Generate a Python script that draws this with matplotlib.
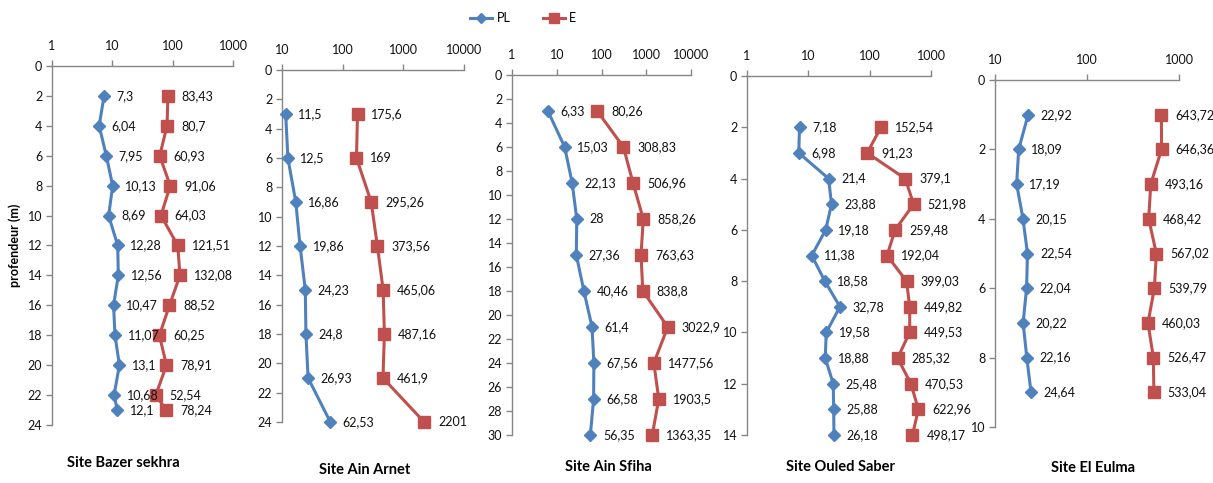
import matplotlib
matplotlib.use("Agg")
import matplotlib.pyplot as plt
from matplotlib.ticker import FixedLocator, NullLocator
from matplotlib.lines import Line2D

plt.rcParams['font.family'] = ['Lato', 'DejaVu Sans']

BLUE = '#4F81BD'
RED = '#C0504D'
GRAY = '#868686'

# ---- data ----
titles = ["Site Bazer sekhra", "Site Ain Arnet", "Site Ain Sfiha", "Site Ouled Saber", "Site El Eulma"]

depth1 = [2, 4, 6, 8, 10, 12, 14, 16, 18, 20, 22, 23]
pl1 = [7.3, 6.04, 7.95, 10.13, 8.69, 12.28, 12.56, 10.47, 11.07, 13.1, 10.68, 12.1]
e1 = [83.43, 80.7, 60.93, 91.06, 64.03, 121.51, 132.08, 88.52, 60.25, 78.91, 52.54, 78.24]

depth2 = [3, 6, 9, 12, 15, 18, 21, 24]
pl2 = [11.5, 12.5, 16.86, 19.86, 24.23, 24.8, 26.93, 62.53]
e2 = [175.6, 169, 295.26, 373.56, 465.06, 487.16, 461.9, 2201]

depth3 = [3, 6, 9, 12, 15, 18, 21, 24, 27, 30]
pl3 = [6.33, 15.03, 22.13, 28, 27.36, 40.46, 61.4, 67.56, 66.58, 56.35]
e3 = [80.26, 308.83, 506.96, 858.26, 763.63, 838.8, 3022.9, 1477.56, 1903.5, 1363.35]

depth4 = [2, 3, 4, 5, 6, 7, 8, 9, 10, 11, 12, 13, 14]
pl4 = [7.18, 6.98, 21.4, 23.88, 19.18, 11.38, 18.58, 32.78, 19.58, 18.88, 25.48, 25.88, 26.18]
e4 = [152.54, 91.23, 379.1, 521.98, 259.48, 192.04, 399.03, 449.82, 449.53, 285.32, 470.53, 622.96, 498.17]

depth5 = [1, 2, 3, 4, 5, 6, 7, 8, 9]
pl5 = [22.92, 18.09, 17.19, 20.15, 22.54, 22.04, 20.22, 22.16, 24.64]
e5 = [643.72, 646.36, 493.16, 468.42, 567.02, 539.79, 460.03, 526.47, 533.04]

xticks = [[1, 10, 100, 1000], [10, 100, 1000, 10000], [1, 10, 100, 1000, 10000],
          [1, 10, 100, 1000], [10, 100, 1000]]
ymax = [24, 24, 30, 14, 10]
ystep = [2, 2, 2, 2, 2]

depths = [depth1, depth2, depth3, depth4, depth5]
pls = [pl1, pl2, pl3, pl4, pl5]
es = [e1, e2, e3, e4, e5]

# axes boxes in pixels (left, right, top, bottom)
W, H = 1213, 483
boxes = [(52, 233, 66, 425), (282, 464, 70, 422), (512, 691, 75, 435),
         (747, 931, 76, 435), (995, 1179, 80, 427)]
title_pos = [(123, 463), (365, 470), (608, 467), (840, 467), (1093, 468)]

fig = plt.figure(figsize=(W / 100, H / 100), dpi=100)

def fmt(v):
    return f"{v:g}".replace('.', ',')

for i in range(5):
    l, r, t, b = boxes[i]
    ax = fig.add_axes([l / W, 1 - b / H, (r - l) / W, (b - t) / H])
    ax.set_xscale('log')
    ax.set_xlim(xticks[i][0], xticks[i][-1])
    ax.set_ylim(ymax[i], 0)
    ax.xaxis.set_major_locator(FixedLocator(xticks[i]))
    ax.xaxis.set_minor_locator(NullLocator())
    ax.set_xticklabels([str(x) for x in xticks[i]])
    ax.set_yticks(list(range(0, ymax[i] + 1, ystep[i])))
    ax.xaxis.tick_top()
    for s in ['right', 'bottom']:
        ax.spines[s].set_visible(False)
    for s in ['top', 'left']:
        ax.spines[s].set_color(GRAY)
        ax.spines[s].set_linewidth(1.0)
    ax.tick_params(axis='both', which='major', direction='out', length=4, width=1,
                   color=GRAY, labelsize=9, labelcolor='#111111', pad=3)
    ax.tick_params(axis='x', pad=6)
    ax.patch.set_alpha(0)

    ax.plot(pls[i], depths[i], color=BLUE, lw=2.2, marker='D', ms=6,
            markerfacecolor=BLUE, markeredgecolor=BLUE, clip_on=False, zorder=3)
    ax.plot(es[i], depths[i], color=RED, lw=2.2, marker='s', ms=8,
            markerfacecolor=RED, markeredgecolor=RED, clip_on=False, zorder=3)
    for x, y in zip(pls[i], depths[i]):
        ax.annotate(fmt(x), (x, y), xytext=(9, 0), textcoords='offset points',
                    ha='left', va='center', fontsize=9, color='#111111')
    for x, y in zip(es[i], depths[i]):
        ax.annotate(fmt(x), (x, y), xytext=(10, 0), textcoords='offset points',
                    ha='left', va='center', fontsize=9, color='#111111')

    tx, ty = title_pos[i]
    fig.text(tx / W, 1 - ty / H, titles[i], ha='center', va='center',
             fontsize=10.5, fontweight='bold')

fig.text(15 / W, 1 - 245 / H, 'profendeur (m)', rotation=90, ha='center', va='center',
         fontsize=9, fontweight='bold')

# legend
legend_items = [(470, 492, 497, 'PL', BLUE, 'D', 5), (543, 565, 569, 'E', RED, 's', 7)]
for x0, x1, xt, lab, c, m, ms in legend_items:
    yy = 1 - 18 / H
    fig.add_artist(Line2D([x0 / W, x1 / W], [yy, yy], color=c, lw=2.2,
                          transform=fig.transFigure))
    fig.add_artist(Line2D([(x0 + x1) / 2 / W], [yy], color=c, marker=m, ms=ms,
                          transform=fig.transFigure))
    fig.text(xt / W, yy, lab, ha='left', va='center', fontsize=9)

fig.savefig('out.png', dpi=100)
